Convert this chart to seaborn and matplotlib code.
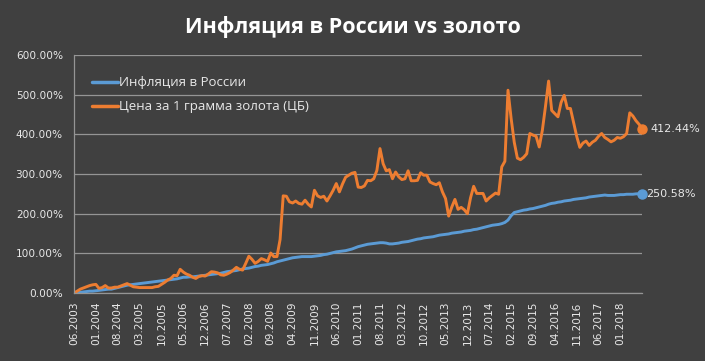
import numpy as np
import pandas as pd
import matplotlib
matplotlib.use("Agg")
import matplotlib.pyplot as plt
import seaborn as sns

################### data (monthly, 06.2003 - 08.2018, % growth from 06.2003) ###################

inflation = [0, 1, 2, 3, 4, 5, 5, 6, 7, 8,
             9, 10, 10, 12, 14, 16, 18, 20, 21, 22,
             23, 24, 25, 26, 27, 28, 29, 30, 31, 32,
             33, 34, 35, 36, 38, 40, 40, 41, 41, 42,
             43, 44, 45, 46, 47, 48, 49, 50, 52, 54,
             55, 56, 57, 59, 61, 62, 63, 65, 67, 68,
             70, 71, 72, 74, 76, 79, 81, 83, 85, 87,
             89, 90, 91, 92, 92, 92, 92, 93, 94, 95,
             97, 98, 100, 102, 104, 105, 106, 107, 109, 111,
             114, 117, 119, 121, 123, 124, 125, 126, 127, 127,
             126, 124, 124, 125, 126, 128, 129, 130, 132, 134,
             136, 137, 139, 140, 141, 142, 144, 146, 147, 148,
             149, 151, 152, 153, 154, 156, 157, 158, 160, 161,
             163, 165, 167, 169, 171, 172, 173, 175, 178, 184,
             195, 203, 205, 207, 209, 210, 212, 213, 215, 217,
             219, 221, 224, 226, 227, 229, 230, 232, 233, 234,
             236, 237, 238, 239, 240, 242, 243, 244, 245, 246,
             247, 246, 246, 246, 247, 248, 248, 249, 249, 249,
             250, 250.2, 250.58]

gold = [0, 5, 10, 13, 16, 19, 21, 22, 12, 14,
        19, 13, 13, 15, 15, 18, 21, 24, 20, 16,
        15, 14, 14, 14, 14, 14, 16, 17, 22, 27,
        33, 37, 45, 44, 60, 53, 48, 45, 40, 37,
        42, 44, 43, 48, 54, 53, 51, 46, 45, 48,
        52, 58, 65, 60, 58, 75, 93, 85, 75, 80,
        87, 84, 80, 101, 92, 92, 135, 245, 244, 230,
        227, 232, 226, 224, 234, 224, 217, 259, 245, 241,
        244, 232, 245, 259, 276, 255, 275, 292, 297, 302,
        304, 267, 266, 270, 284, 283, 288, 309, 364, 326,
        308, 311, 288, 305, 293, 286, 288, 308, 283, 283,
        284, 303, 297, 297, 280, 276, 273, 278, 255, 238,
        194, 217, 236, 211, 216, 210, 200, 240, 269, 251,
        251, 251, 232, 240, 246, 252, 249, 318, 332, 511,
        440, 380, 340, 336, 342, 351, 402, 398, 395, 368,
        410, 470, 534, 460, 452, 444, 480, 498, 465, 465,
        430, 395, 367, 378, 383, 372, 380, 385, 395, 402,
        392, 387, 381, 385, 392, 390, 394, 402, 454, 446,
        434, 425, 412.44]

tick_labels = ['06.2003', '01.2004', '08.2004', '03.2005', '10.2005', '05.2006',
               '12.2006', '07.2007', '02.2008', '09.2008', '04.2009', '11.2009',
               '06.2010', '01.2011', '08.2011', '03.2012', '10.2012', '05.2013',
               '12.2013', '07.2014', '02.2015', '09.2015', '04.2016', '11.2016',
               '06.2017', '01.2018', '']

name_infl = 'Инфляция в России'
name_gold = 'Цена за 1 грамма золота (ЦБ)'

################### plot ###################

bg = '#404040'
txt = '#e8e8e8'
grid_c = '#959595'
blue = '#5b9bd5'
orange = '#ed7d31'

df = pd.DataFrame({'month': np.arange(len(gold)), name_infl: inflation, name_gold: gold})
long = df.melt(id_vars='month', var_name='series', value_name='pct')

sns.set_style('dark')
plt.rcParams['font.family'] = ['DejaVu Sans']

fig = plt.figure(figsize=(7.05, 3.61), dpi=100, facecolor=bg)
ax = fig.add_axes([0.105, 0.188, 0.806, 0.660])
ax.set_facecolor(bg)

sns.lineplot(data=long, x='month', y='pct', hue='series',
             palette={name_infl: blue, name_gold: orange},
             linewidth=2.1, ax=ax)

# end markers + labels
last = df.iloc[-1]
ax.plot(last['month'], last[name_infl], 'o', color=blue, markersize=6.5, zorder=5, clip_on=False)
ax.plot(last['month'], last[name_gold], 'o', color=orange, markersize=6.5, zorder=5, clip_on=False)
ax.annotate('{:.2f}%'.format(last[name_gold]), (last['month'], last[name_gold]),
            xytext=(6, 0), textcoords='offset points', va='center', ha='left',
            color=txt, fontsize=8, annotation_clip=False)
ax.annotate('{:.2f}%'.format(last[name_infl]), (last['month'], last[name_infl]),
            xytext=(3, 0), textcoords='offset points', va='center', ha='left',
            color=txt, fontsize=8, annotation_clip=False)

ax.set_xlim(0, len(gold) - 1)
ax.set_ylim(0, 600)
ax.set_yticks(range(0, 601, 100))
ax.set_yticklabels(['{:.2f}%'.format(v) for v in range(0, 601, 100)])
ax.set_xticks(range(0, 7 * len(tick_labels), 7))
ax.set_xticklabels(tick_labels, rotation=90)

ax.grid(axis='y', color=grid_c, linewidth=0.9)
ax.grid(axis='x', visible=False)
ax.tick_params(axis='both', colors=grid_c, labelcolor=txt, labelsize=7.6, length=4, width=0.9, direction='out')
ax.tick_params(axis='y', pad=4)
ax.tick_params(axis='x', pad=2)
for side in ['top', 'right']:
    ax.spines[side].set_visible(False)
for side in ['left', 'bottom']:
    ax.spines[side].set_color(grid_c)
    ax.spines[side].set_linewidth(0.9)
ax.set_xlabel('')
ax.set_ylabel('')

leg = ax.legend(loc='upper left', bbox_to_anchor=(0.01, 0.96), frameon=False,
                handlelength=2.0, handletextpad=0.1, labelspacing=0.85,
                prop={'family': 'Open Sans', 'size': 9.5})
for t in leg.get_texts():
    t.set_color(txt)
for h in leg.get_lines():
    h.set_linewidth(2.5)

fig.text(0.5, 0.925, 'Инфляция в России vs золото', ha='center', va='center',
         color='white', fontsize=15.5, fontweight='bold', family='Open Sans')

fig.savefig('out.png', dpi=100, facecolor=bg)
